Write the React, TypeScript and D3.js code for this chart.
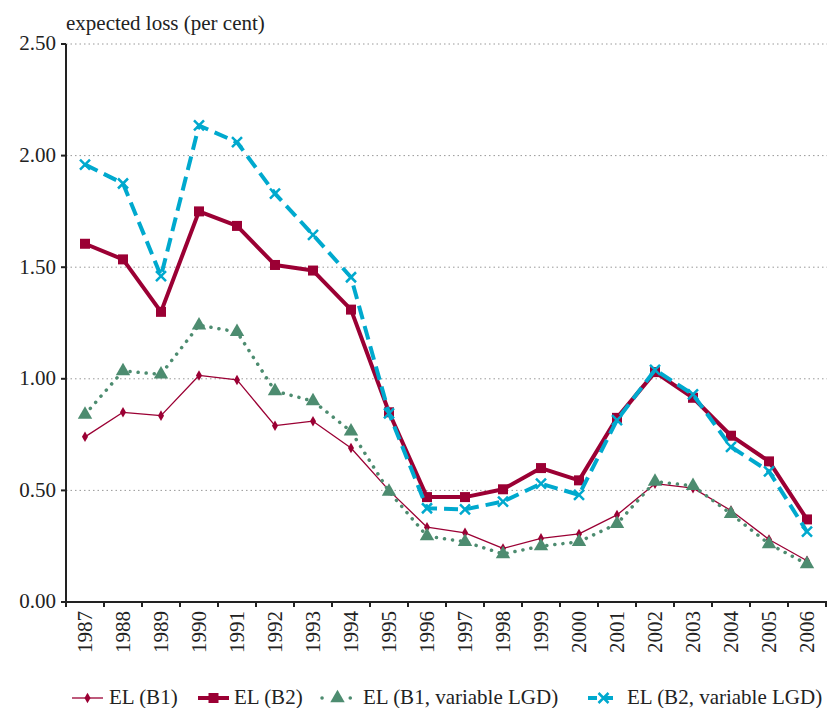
import React, { useEffect, useRef } from 'react';
import * as d3 from 'd3';

const years = ['1987', '1988', '1989', '1990', '1991', '1992', '1993', '1994', '1995', '1996',
  '1997', '1998', '1999', '2000', '2001', '2002', '2003', '2004', '2005', '2006'];
const elB1 = [0.74, 0.85, 0.835, 1.015, 0.995, 0.79, 0.81, 0.69, 0.5, 0.335,
  0.31, 0.24, 0.285, 0.305, 0.39, 0.53, 0.51, 0.41, 0.28, 0.185];
const elB2 = [1.605, 1.535, 1.3, 1.75, 1.685, 1.51, 1.485, 1.31, 0.85, 0.47,
  0.47, 0.505, 0.6, 0.545, 0.825, 1.03, 0.915, 0.745, 0.63, 0.37];
const elB1Var = [0.84, 1.035, 1.02, 1.24, 1.21, 0.945, 0.9, 0.765, 0.495, 0.295,
  0.27, 0.215, 0.25, 0.27, 0.35, 0.54, 0.52, 0.395, 0.26, 0.17];
const elB2Var = [1.96, 1.875, 1.46, 2.135, 2.06, 1.83, 1.645, 1.455, 0.845, 0.42,
  0.415, 0.45, 0.53, 0.48, 0.815, 1.04, 0.93, 0.695, 0.585, 0.315];
const yTicks = [0, 0.5, 1, 1.5, 2, 2.5];

const RED = '#9b0034';
const TEAL = '#00a9ce';
const GREEN = '#4d8c70';
const FONT = '"Liberation Serif", "DejaVu Serif", serif';

const series = [
  { name: 'EL (B1)', values: elB1, color: RED, width: 1.3, dash: null, marker: 'diamond', cap: 'butt' },
  { name: 'EL (B2)', values: elB2, color: RED, width: 4, dash: null, marker: 'square', cap: 'butt' },
  { name: 'EL (B1, variable LGD)', values: elB1Var, color: GREEN, width: 3.5, dash: '0.1 8', marker: 'triangle', cap: 'round' },
  { name: 'EL (B2, variable LGD)', values: elB2Var, color: TEAL, width: 4, dash: '14 7', marker: 'cross', cap: 'butt' },
];

function drawMarker(g: any, kind: string, x: number, y: number, color: string) {
  if (kind === 'diamond') {
    g.append('path').attr('d', d3.symbol(d3.symbolDiamond, 32)()).attr('transform', `translate(${x},${y})`).attr('fill', color);
  } else if (kind === 'square') {
    g.append('rect').attr('x', x - 5).attr('y', y - 5).attr('width', 10).attr('height', 10).attr('fill', color);
  } else if (kind === 'triangle') {
    g.append('path').attr('d', d3.symbol(d3.symbolTriangle, 90)()).attr('transform', `translate(${x},${y})`).attr('fill', color);
  } else {
    g.append('path').attr('d', `M${x - 5},${y - 5}L${x + 5},${y + 5}M${x - 5},${y + 5}L${x + 5},${y - 5}`)
      .attr('stroke', color).attr('stroke-width', 2.5).attr('fill', 'none');
  }
}

export default function App() {
  const ref = useRef<SVGSVGElement>(null);

  useEffect(() => {
    const svg = d3.select(ref.current);
    svg.selectAll('*').remove();
    const left = 66, right = 826, top = 44, bottom = 602;

    const x = d3.scaleBand().domain(years).range([left, right]);
    const y = d3.scaleLinear().domain([0, 2.5]).range([bottom, top]);

    // gridlines
    svg.append('g').selectAll('line').data(yTicks.filter(t => t > 0)).join('line')
      .attr('x1', left).attr('x2', 827).attr('y1', d => y(d)).attr('y2', d => y(d))
      .attr('stroke', '#999').attr('stroke-width', 1).attr('stroke-dasharray', '1.5 3');

    // y axis
    const ya = svg.append('g');
    ya.append('line').attr('x1', left).attr('x2', left).attr('y1', top).attr('y2', bottom)
      .attr('stroke', '#222').attr('stroke-width', 2);
    ya.selectAll('.tk').data(yTicks).join('line').attr('class', 'tk')
      .attr('x1', left - 5).attr('x2', left).attr('y1', d => y(d)).attr('y2', d => y(d))
      .attr('stroke', '#222').attr('stroke-width', 2);
    ya.selectAll('text').data(yTicks).join('text')
      .attr('x', left - 10).attr('y', d => y(d)).attr('dy', '0.3em').attr('text-anchor', 'end')
      .attr('font-family', FONT).attr('font-size', 21).attr('fill', '#222')
      .text(d => d3.format('.2f')(d));

    // x axis
    const xa = svg.append('g');
    xa.append('line').attr('x1', left).attr('x2', right + 1).attr('y1', bottom).attr('y2', bottom)
      .attr('stroke', '#222').attr('stroke-width', 2);
    const bounds = years.map(yr => x(yr)!).concat([right]);
    xa.selectAll('.tk').data(bounds).join('line').attr('class', 'tk')
      .attr('x1', d => d).attr('x2', d => d).attr('y1', bottom).attr('y2', bottom + 5)
      .attr('stroke', '#222').attr('stroke-width', 2);
    xa.selectAll('text').data(years).join('text')
      .attr('transform', d => `translate(${x(d)! + x.bandwidth() / 2},${bottom + 9}) rotate(-90)`)
      .attr('text-anchor', 'end').attr('dy', '0.33em')
      .attr('font-family', FONT).attr('font-size', 21).attr('fill', '#222')
      .text(d => d);

    svg.append('text').attr('x', 66).attr('y', 30)
      .attr('font-family', FONT).attr('font-size', 21).attr('fill', '#222')
      .text('expected loss (per cent)');

    const cx = (i: number) => x(years[i])! + x.bandwidth() / 2;
    const line = d3.line<number>().x((_, i) => cx(i)).y(d => y(d));

    series.forEach(s => {
      const g = svg.append('g');
      g.append('path').attr('d', line(s.values)).attr('fill', 'none')
        .attr('stroke', s.color).attr('stroke-width', s.width)
        .attr('stroke-dasharray', s.dash).attr('stroke-linecap', s.cap).attr('stroke-linejoin', 'round');
      s.values.forEach((v, i) => drawMarker(g, s.marker, cx(i), y(v), s.color));
    });

    // legend
    const lineX = [72, 198, 322, 588];
    const textX = [109, 234, 363, 627];
    const ly = 698;
    series.forEach((s, i) => {
      const g = svg.append('g');
      const x0 = lineX[i];
      g.append('line').attr('x1', x0).attr('x2', x0 + 31).attr('y1', ly).attr('y2', ly)
        .attr('stroke', s.color).attr('stroke-width', s.width)
        .attr('stroke-dasharray', s.dash ? (s.marker === 'cross' ? '9 7' : '0.1 14') : null)
        .attr('stroke-linecap', s.cap);
      drawMarker(g, s.marker, x0 + 15.5, ly, s.color);
      g.append('text').attr('x', textX[i]).attr('y', ly + 6)
        .attr('font-family', FONT).attr('font-size', 21).attr('fill', '#222').text(s.name);
    });
  }, []);

  return (
    <svg ref={ref} width={832} height={708}
      style={{ position: 'absolute', left: 0, top: 0, display: 'block', background: '#fff' }} />
  );
}
